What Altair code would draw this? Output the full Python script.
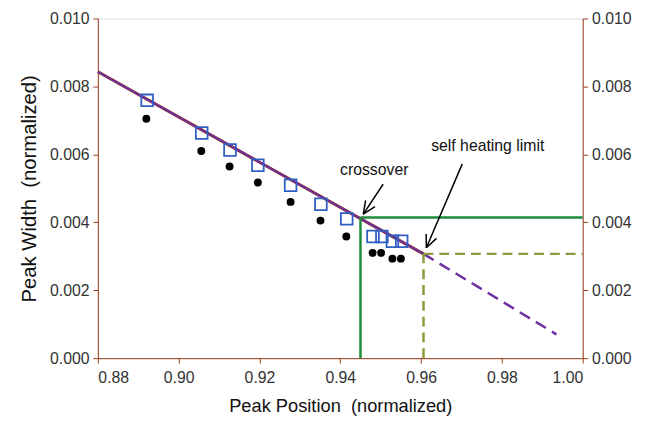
import altair as alt
import pandas as pd
import numpy as np

# ---- data ----
sq_x = [0.8922, 0.9057, 0.9127, 0.9196, 0.9277, 0.9352, 0.9416, 0.9481, 0.9503, 0.9529, 0.9552]
sq_y = [0.00759, 0.00663, 0.00613, 0.00568, 0.00509, 0.00453, 0.00410, 0.00358, 0.00358, 0.00344, 0.00344]
dot_x = [0.8920, 0.9056, 0.9126, 0.9196, 0.9277, 0.9351, 0.9415, 0.9480, 0.9501, 0.9529, 0.9550]
dot_y = [0.00705, 0.00610, 0.00564, 0.00517, 0.00460, 0.00405, 0.00358, 0.00310, 0.00310, 0.00293, 0.00293]

fit_x = [0.880, 0.9606]
fit_y = [0.00843, 0.00307]
ext_x = [0.9606, 0.9935]
ext_y = [0.00307, 0.00070]

cross_x = 0.9450
cross_y = 0.00414
limit_x = 0.9606
limit_y = 0.00307
x_max = 1.00

labels = ["crossover", "self heating limit"]
label_x = [0.9484, 0.9765]
label_y = [0.00555, 0.00625]
arrow_tail_x = [0.9506, 0.9702]
arrow_tail_y = [0.00512, 0.00572]
arrow_head_x = [0.9457, 0.9613]
arrow_head_y = [0.00424, 0.00325]

y_ticks = [0.000, 0.002, 0.004, 0.006, 0.008, 0.010]
x_ticks = [0.88, 0.90, 0.92, 0.94, 0.96, 0.98, 1.00]

W, H = 491, 344
FONT = "Liberation Sans"
AXIS_COLOR = "#9A3B1E"
LABEL_COLOR = "#333333"
SP = " \u00a0"

xs = alt.Scale(domain=[0.88, 1.00], nice=False, zero=False)
ys = alt.Scale(domain=[0.0, 0.010], nice=False, zero=False)

x_axis = alt.Axis(title="Peak Position" + SP + "(normalized)", values=x_ticks, format=".2f", grid=False,
                  domainColor=AXIS_COLOR, tickColor=AXIS_COLOR, tickSize=5,
                  labelFont=FONT, labelFontSize=16, labelColor=LABEL_COLOR, labelPadding=7,
                  titleFont=FONT, titleFontSize=18.5, titleFontWeight="normal", titleColor="#111111",
                  titlePadding=11)
y_axis = alt.Axis(title="Peak Width" + SP + "(normalized)", values=y_ticks, format=".3f", grid=False,
                  domainColor=AXIS_COLOR, tickColor=AXIS_COLOR, tickSize=5,
                  labelFont=FONT, labelFontSize=16, labelColor=LABEL_COLOR, labelPadding=4,
                  titleFont=FONT, titleFontSize=20.5, titleFontWeight="normal", titleColor="#111111",
                  titlePadding=10)
y_axis_r = alt.Axis(title=None, values=y_ticks, format=".3f", grid=False, orient="right",
                    domainColor=AXIS_COLOR, tickColor=AXIS_COLOR, tickSize=5,
                    labelFont=FONT, labelFontSize=16, labelColor=LABEL_COLOR, labelPadding=4)

X = lambda f="x": alt.X(f"{f}:Q", scale=xs, axis=x_axis)
Y = lambda f="y": alt.Y(f"{f}:Q", scale=ys, axis=y_axis)

fit_df = pd.DataFrame({"x": fit_x, "y": fit_y})
ext_df = pd.DataFrame({"x": ext_x, "y": ext_y})

brown = alt.Chart(fit_df).mark_line(color="#8B2A10", strokeWidth=3).encode(x=X(), y=Y())
purple = alt.Chart(fit_df).mark_line(color="#7030A0", strokeWidth=2).encode(x=X(), y=Y())
purple_ext = alt.Chart(ext_df).mark_line(color="#7030A0", strokeWidth=2.5, strokeDash=[12, 7]).encode(x=X(), y=Y())

green_df = pd.DataFrame({"x": [cross_x, cross_x], "y": [0.0, cross_y],
                         "x2": [cross_x, x_max], "y2": [cross_y, cross_y]})
green = alt.Chart(green_df).mark_rule(color="#1E8A3C", strokeWidth=2.5).encode(
    x=X(), y=Y(), x2="x2:Q", y2="y2:Q")

olive_df = pd.DataFrame({"x": [limit_x, limit_x], "y": [0.0, limit_y],
                         "x2": [limit_x, x_max], "y2": [limit_y, limit_y]})
olive = alt.Chart(olive_df).mark_rule(color="#8A9A3C", strokeWidth=2.5, strokeDash=[10, 6]).encode(
    x=X(), y=Y(), x2="x2:Q", y2="y2:Q")

sq_df = pd.DataFrame({"x": sq_x, "y": sq_y})
squares = alt.Chart(sq_df).mark_point(shape="square", filled=False, color="#2F5FC4",
                                      size=140, strokeWidth=1.8, opacity=1).encode(x=X(), y=Y())
dot_df = pd.DataFrame({"x": dot_x, "y": dot_y})
dots = alt.Chart(dot_df).mark_circle(color="black", size=64, opacity=1).encode(x=X(), y=Y())

txt_df = pd.DataFrame({"x": label_x, "y": label_y, "t": labels})
texts = alt.Chart(txt_df).mark_text(font=FONT, fontSize=16, color="#111111", align="center",
                                    baseline="middle").encode(x=X(), y=Y(), text="t:N")

# arrows: shaft + open head computed from tail/head in pixel space
px_per_x = W / 0.12
px_per_y = H / 0.010
segs = []
for tx, ty, hx, hy in zip(arrow_tail_x, arrow_tail_y, arrow_head_x, arrow_head_y):
    segs.append((tx, ty, hx, hy))
    dx = (tx - hx) * px_per_x
    dy = (ty - hy) * px_per_y
    ang = np.arctan2(dy, dx)
    for s in (+0.42, -0.42):
        a = ang + s
        ex = hx + 14 * np.cos(a) / px_per_x
        ey = hy + 14 * np.sin(a) / px_per_y
        segs.append((hx, hy, ex, ey))
arr_df = pd.DataFrame(segs, columns=["x", "y", "x2", "y2"])
arrows = alt.Chart(arr_df).mark_rule(color="black", strokeWidth=1.5).encode(
    x=X(), y=Y(), x2="x2:Q", y2="y2:Q")

right_df = pd.DataFrame({"y": [0.0, 0.010]})
right_axis = alt.Chart(right_df).mark_point(opacity=0).encode(
    y=alt.Y("y:Q", scale=ys, axis=y_axis_r))

main = alt.layer(brown, purple, purple_ext, green, olive, squares, dots, arrows, texts)

chart = alt.layer(main, right_axis).resolve_scale(y="independent").properties(
    width=W, height=H,
    autosize=alt.AutoSizeParams(type="none"),
    padding={"left": 91, "top": 8, "right": 56, "bottom": 58},
).configure_view(stroke=AXIS_COLOR, strokeWidth=1).configure(background="white")

chart.save("out.html", embed_options={"renderer": "svg", "actions": False})
